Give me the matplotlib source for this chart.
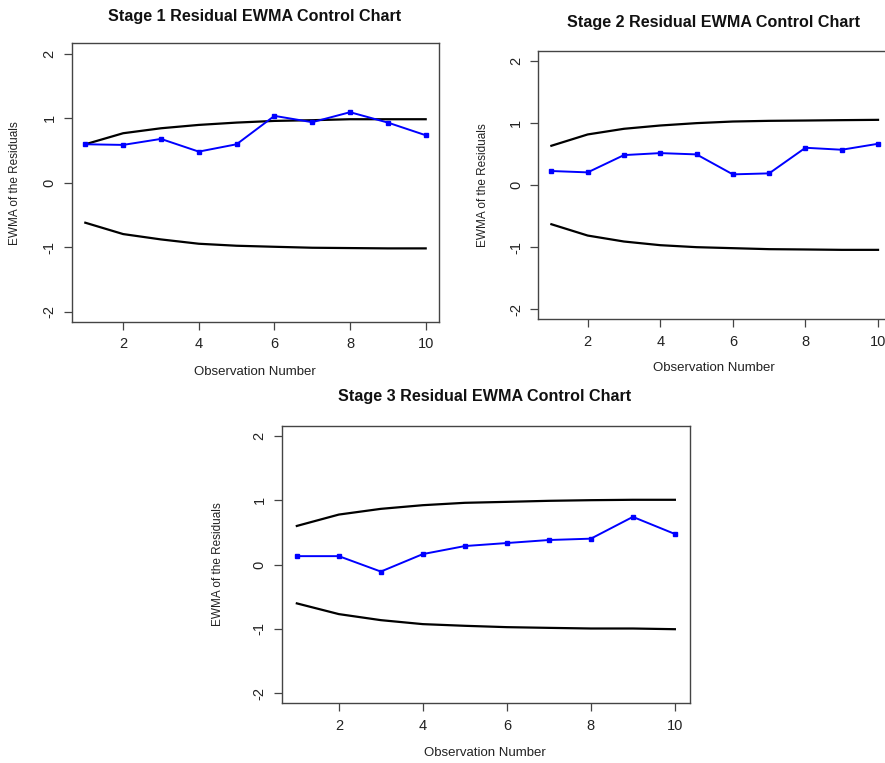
import matplotlib
matplotlib.use("Agg")
import matplotlib.pyplot as plt

W, H = 885, 763

obs = [1, 2, 3, 4, 5, 6, 7, 8, 9, 10]

# Stage 1
ewma_1 = [0.595, 0.585, 0.678, 0.481, 0.595, 1.035, 0.937, 1.092, 0.931, 0.735]
ucl_1 = [0.595, 0.766, 0.843, 0.895, 0.931, 0.957, 0.968, 0.983, 0.983, 0.983]
lcl_1 = [-0.621, -0.797, -0.880, -0.947, -0.978, -0.994, -1.009, -1.014, -1.019, -1.019]

# Stage 2
ewma_2 = [0.225, 0.203, 0.481, 0.513, 0.492, 0.171, 0.187, 0.599, 0.567, 0.663]
ucl_2 = [0.631, 0.813, 0.904, 0.957, 0.995, 1.021, 1.032, 1.037, 1.043, 1.048]
lcl_2 = [-0.631, -0.813, -0.909, -0.968, -1.000, -1.016, -1.032, -1.037, -1.043, -1.043]

# Stage 3
ewma_3 = [0.130, 0.130, -0.110, 0.162, 0.287, 0.334, 0.381, 0.402, 0.741, 0.475]
ucl_3 = [0.600, 0.777, 0.866, 0.923, 0.960, 0.975, 0.991, 1.001, 1.007, 1.007]
lcl_3 = [-0.605, -0.772, -0.866, -0.928, -0.954, -0.975, -0.986, -0.996, -0.996, -1.007]

titles = ["Stage 1 Residual EWMA Control Chart",
          "Stage 2 Residual EWMA Control Chart",
          "Stage 3 Residual EWMA Control Chart"]
xticks = [2, 4, 6, 8, 10]
yticks = [-2, -1, 0, 1, 2]

plt.rcParams["font.family"] = ["Liberation Sans", "DejaVu Sans"]
plt.rcParams["axes.unicode_minus"] = False


def px_box(left, top, right, bottom):
    """Pixel box -> figure fraction rect."""
    return [left / W, 1 - bottom / H, (right - left) / W, (bottom - top) / H]


def fx(x):
    return x / W


def fy(y):
    return 1 - y / H


fig = plt.figure(figsize=(W / 100, H / 100), dpi=100)

panels = [
    # axes box, title pos, ylabel x, xlabel y
    dict(box=(71.7, 43.3, 439.3, 322.0), title=(255, 16), ylab=15, xlab=372,
         data=(ewma_1, ucl_1, lcl_1)),
    dict(box=(538.3, 50.7, 891.1, 319.3), title=(714, 23), ylab=483, xlab=368,
         data=(ewma_2, ucl_2, lcl_2)),
    dict(box=(281.7, 425.7, 690.0, 703.3), title=(485, 397), ylab=218, xlab=753,
         data=(ewma_3, ucl_3, lcl_3)),
]

for p, title in zip(panels, titles):
    left, top, right, bottom = p["box"]
    ax = fig.add_axes(px_box(left, top, right, bottom))
    ewma, ucl, lcl = p["data"]

    ax.plot(obs, ucl, color="black", lw=1.6)
    ax.plot(obs, lcl, color="black", lw=1.6)
    ax.plot(obs, ewma, color="#0000ff", lw=1.4, marker="s", ms=3.2)

    ax.set_xlim(0.64, 10.36)
    ax.set_ylim(-2.16, 2.16)
    ax.set_xticks(xticks)
    ax.set_yticks(yticks)
    ax.tick_params(length=6, width=0.9, color="#444444", labelsize=10.5,
                   labelcolor="#222222", pad=5)
    for lab in ax.get_yticklabels():
        lab.set_rotation(90)
        lab.set_va("center")
    for s in ax.spines.values():
        s.set_color("#444444")
        s.set_linewidth(1.0)

    cy = (top + bottom) / 2
    fig.text(fx(p["title"][0]), fy(p["title"][1]), title, ha="center",
             va="center", fontsize=11.6, fontweight="bold", color="#111111")
    fig.text(fx(p["ylab"]), fy(cy), "EWMA of the Residuals", rotation=90,
             ha="center", va="center", fontsize=8.5, color="#222222")
    fig.text(fx(p["title"][0]), fy(p["xlab"]), "Observation Number",
             ha="center", va="center", fontsize=9.5, color="#222222")

fig.savefig("out.png", dpi=100, facecolor="white")
